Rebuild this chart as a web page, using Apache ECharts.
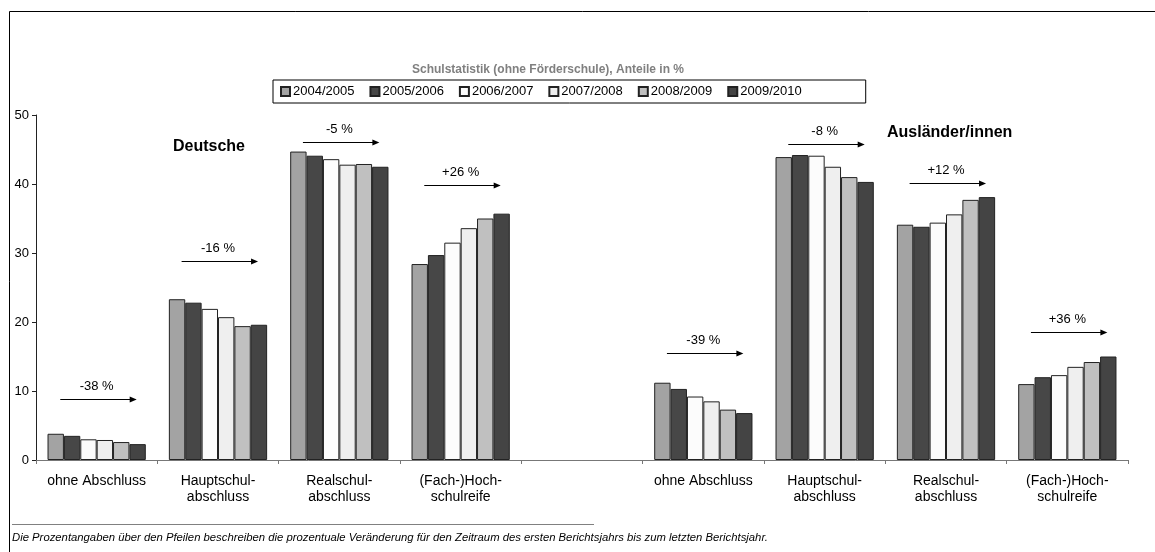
<!DOCTYPE html>
<html>
<head>
<meta charset="utf-8">
<script src="https://cdn.jsdelivr.net/npm/echarts@6/dist/echarts.min.js"></script>
<style>
  html, body { margin: 0; padding: 0; background: #ffffff; }
  #chart { width: 1155px; height: 552px; }
</style>
</head>
<body>
<div id="chart"></div>
<script>
// School leavers by qualification, shares in %, Germans (left) and foreigners (right)
const categories = [
  'ohne Abschluss', 'Hauptschul-\nabschluss', 'Realschul-\nabschluss', '(Fach-)Hoch-\nschulreife',
  '',
  'ohne Abschluss', 'Hauptschul-\nabschluss', 'Realschul-\nabschluss', '(Fach-)Hoch-\nschulreife'
];
const years = ['2004/2005', '2005/2006', '2006/2007', '2007/2008', '2008/2009', '2009/2010'];

const share2004 = [3.8, 23.3, 44.7, 28.4, null, 11.2, 43.9, 34.1, 11.0];
const share2005 = [3.5, 22.8, 44.1, 29.7, null, 10.3, 44.2, 33.8, 12.0];
const share2006 = [3.0, 21.9, 43.6, 31.5, null, 9.2, 44.1, 34.4, 12.3];
const share2007 = [2.9, 20.7, 42.8, 33.6, null, 8.5, 42.5, 35.6, 13.5];
const share2008 = [2.6, 19.4, 42.9, 35.0, null, 7.3, 41.0, 37.7, 14.2];
const share2009 = [2.3, 19.6, 42.5, 35.7, null, 6.8, 40.3, 38.1, 15.0];

// change from first to last reporting year, shown above an arrow per category
const changeLabels = ['-38 %', '-16 %', '-5 %', '+26 %', '-39 %', '-8 %', '+12 %', '+36 %'];
const changeCategories = [0, 1, 2, 3, 5, 6, 7, 8];

const yTicks = [0, 10, 20, 30, 40, 50];

const seriesValues = [share2004, share2005, share2006, share2007, share2008, share2009];
const fills = ['#a3a3a3', '#474747', '#fcfcfc', '#efefef', '#c0c0c0', '#444444'];
const FONT = '"Liberation Sans", Arial, sans-serif';

// arrow annotation heights on the value axis
const arrowLevels = [8.8, 28.8, 46.1, 39.9, 15.5, 45.8, 40.1, 18.6];

const chart = echarts.init(document.getElementById('chart'), null, { renderer: 'canvas' });

const barSeries = years.map((y, i) => ({
  name: y,
  type: 'bar',
  data: seriesValues[i],
  barGap: '0%',
  barCategoryGap: '19%',
  itemStyle: { color: fills[i], borderColor: '#222', borderWidth: 1 },
  emphasis: { disabled: true },
  animation: false
}));

const arrowSeries = {
  type: 'custom',
  silent: true,
  animation: false,
  data: changeCategories.map((c, i) => [c, arrowLevels[i]]),
  renderItem(params, api) {
    const p = api.coord([api.value(0), api.value(1)]);
    const bw = api.size([1, 0])[0];
    const x0 = p[0] - bw * 0.30;
    const x1 = p[0] + bw * 0.33;
    const y = Math.round(p[1]) + 0.5;
    return {
      type: 'group',
      children: [
        { type: 'line', shape: { x1: x0, y1: y, x2: x1 - 5, y2: y },
          style: { stroke: '#000', lineWidth: 1.2 } },
        { type: 'polygon', shape: { points: [[x1, y], [x1 - 7, y - 3], [x1 - 7, y + 3]] },
          style: { fill: '#000' } },
        { type: 'text', x: p[0], y: y - 13,
          style: { text: changeLabels[params.dataIndex], fill: '#000', font: '13px ' + FONT,
                   align: 'center', verticalAlign: 'middle' } }
      ]
    };
  }
};

chart.setOption({
  backgroundColor: '#ffffff',
  animation: false,
  textStyle: { fontFamily: FONT },
  grid: { left: 36, right: 27, top: 115, bottom: 92, containLabel: false },
  legend: {
    data: years,
    left: 273,
    top: 80,
    padding: [5, 64, 5, 7],
    borderColor: '#000',
    borderWidth: 1,
    itemWidth: 9,
    itemHeight: 9,
    itemGap: 15,
    icon: 'rect',
    selectedMode: false,
    textStyle: { fontSize: 13, color: '#000', fontFamily: FONT, padding: [0, 0, 0, -2] }
  },
  xAxis: {
    type: 'category',
    data: categories,
    axisLine: { lineStyle: { color: '#777', width: 1 } },
    axisTick: { show: true, alignWithLabel: false, length: 4, lineStyle: { color: '#777' } },
    axisLabel: { interval: 0, fontSize: 14, color: '#000', lineHeight: 16, margin: 13, fontFamily: FONT },
    splitLine: { show: false }
  },
  yAxis: {
    type: 'value',
    min: yTicks[0],
    max: yTicks[yTicks.length - 1],
    interval: 10,
    axisLine: { show: true, lineStyle: { color: '#222', width: 1 } },
    axisTick: { show: true, length: 4, lineStyle: { color: '#222' } },
    axisLabel: { fontSize: 13, color: '#000', margin: 7, fontFamily: FONT },
    splitLine: { show: false }
  },
  series: [...barSeries, arrowSeries],
  graphic: [
    { type: 'line', shape: { x1: 9.5, y1: 11.5, x2: 1155, y2: 11.5 }, style: { stroke: '#000', lineWidth: 1 } },
    { type: 'line', shape: { x1: 9.5, y1: 11.5, x2: 9.5, y2: 552 }, style: { stroke: '#000', lineWidth: 1 } },
    { type: 'text', x: 548, y: 70,
      style: { text: 'Schulstatistik (ohne Förderschule), Anteile in %', fill: '#808080',
               font: 'bold 12px ' + FONT, align: 'center', verticalAlign: 'middle' } },
    { type: 'text', x: 209, y: 147,
      style: { text: 'Deutsche', fill: '#000', font: 'bold 16px ' + FONT, align: 'center', verticalAlign: 'middle' } },
    { type: 'text', x: 887, y: 133,
      style: { text: 'Ausländer/innen', fill: '#000', font: 'bold 16px ' + FONT, align: 'left', verticalAlign: 'middle' } },
    { type: 'line', shape: { x1: 12, y1: 524.5, x2: 594, y2: 524.5 }, style: { stroke: '#808080', lineWidth: 1 } },
    { type: 'text', x: 12, y: 538,
      style: { text: 'Die Prozentangaben über den Pfeilen beschreiben die prozentuale Veränderung für den Zeitraum des ersten Berichtsjahrs bis zum letzten Berichtsjahr.',
               fill: '#000', font: 'italic 11.3px ' + FONT, align: 'left', verticalAlign: 'middle' } }
  ]
});
</script>
</body>
</html>
